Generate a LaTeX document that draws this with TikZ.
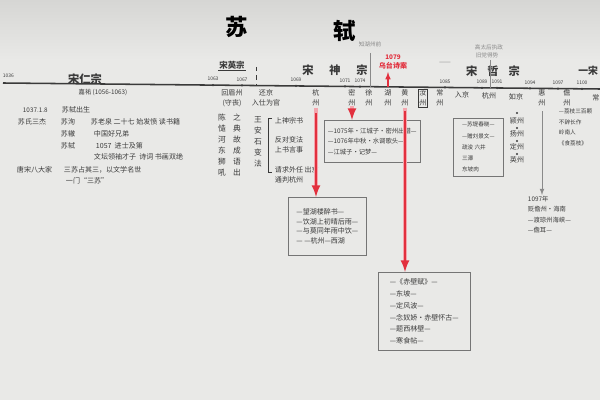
\documentclass[tikz,border=0pt]{standalone}
\usepackage{fontspec}
\setmainfont{Noto Sans CJK SC}
\definecolor{paper}{HTML}{E9E9E7}
\definecolor{paperdark}{HTML}{D6D6D4}
\definecolor{ink}{HTML}{3A3A3A}
\definecolor{faint}{HTML}{8A8A8A}
\definecolor{redink}{HTML}{E2303E}
\definecolor{pinkglow}{HTML}{F4A6AE}
\tikzset{
  hand/.style={font=\fontsize{5}{7}\selectfont, text=ink, inner sep=0.5pt},
  yr/.style={font=\fontsize{3.5}{4}\selectfont, text=ink, inner sep=0.5pt},
  era/.style={font=\fontsize{8}{9}\selectfont\bfseries, text=ink, inner sep=0.5pt},
  place/.style={hand, align=center},
  vtext/.style={font=\fontsize{5.5}{7.8}\selectfont, text=ink, align=center, inner sep=0.5pt},
  notebox/.style={draw=ink!70, line width=0.5pt, hand, align=left, anchor=north west, inner sep=2.5pt},
  redarrow/.style={draw=redink, line width=1.8pt, -latex},
  glow/.style={draw=pinkglow, line width=3.4pt},
  grayarrow/.style={draw=faint, line width=0.5pt, -latex},
}
\begin{document}
\begin{tikzpicture}[x=0.025cm, y=-0.025cm]
    \useasboundingbox (0,0) rectangle (600,400);
    \shade[top color=paperdark, bottom color=paper] (0,0) rectangle (600,60);
    \fill[paper] (0,60) rectangle (600,400);
    % title
    \node[font=\fontsize{16}{16}\selectfont\bfseries] (tsu) at (237,27) {苏};
    \node[font=\fontsize{16}{16}\selectfont\bfseries] (tshi) at (345,31) {轼};
    % time line
    \coordinate (tl0) at (3,83);
    \coordinate (tl1) at (600,89);
    \draw[ink, line width=1.1pt] (tl0) -- (tl1);
    \foreach \x/\yr in {213/1063, 242/1067, 296/1069, 345/1071, 360/1074, 445/1085, 482/1089, 497/1091, 530/1094, 558/1097, 582/1100} {
        \fill[ink] (\x,{83+0.0101*(\x-3)}) circle (0.9pt);
        \node[yr] (yr\yr) at (\x,{77+0.0101*(\x-3)}) {\yr};
    }
    \node[yr, anchor=west] (yr1036) at (2,76) {1036};
    % emperors
    \node[era] (renzong) at (85,79) {宋仁宗};
    \node[hand, font=\fontsize{4.5}{5}\selectfont] (jiayou) at (103,92) {嘉祐\ (1056-1063)};
    \node[era, font=\fontsize{6}{7}\selectfont\bfseries] (yingzong) at (232,65) {宋英宗};
    \draw[ink, line width=0.4pt] (yingzong.south west) -- (yingzong.south east);
    \draw[ink, dashed, line width=0.3pt] (256,67) -- (256,85);
    \node[era] (shenzong) at (335,70) {宋\hspace{1.4em}神\hspace{1.4em}宗};
    \node[era] (zhezong) at (493,71) {宋\hspace{0.9em}哲\hspace{0.9em}宗};
    \node[era, font=\fontsize{7}{8}\selectfont\bfseries, anchor=east] (huizong) at (599,71) {一宋};
    % notes above the line
    \node[hand, text=faint, font=\fontsize{4}{5}\selectfont] (huzhou) at (370,44) {知湖州前};
    \draw[faint, line width=0.6pt] (370,53) -- (370,87);
    \node[hand, text=redink, font=\fontsize{4.5}{5}\selectfont\bfseries] (wuyear) at (393,57) {1079};
    \node[hand, text=redink, font=\fontsize{5}{6}\selectfont\bfseries] (wutai) at (393,66) {乌台诗案};
    \draw[redink, line width=0.8pt, -latex] (388,87) -- (388,72);
    \node[hand, text=faint, font=\fontsize{4}{5}\selectfont] (gao1) at (489,47) {高太后执政};
    \node[hand, text=faint, font=\fontsize{4}{5}\selectfont] (gao2) at (487,55) {旧党得势};
    \draw[faint, line width=0.6pt] (490,60) -- (490,88);
    \node[hand, text=faint] (dash) at (445,63) {——};
    % places below the line
    \foreach \x/\a/\b/\n in {232/回眉州/(守丧)/meizhou, 266/还京/入仕为官/jing, 316/杭/州/hang, 352/密/州/mi, 369/徐/州/xu, 388/湖/州/hu, 405/黄/州/huang, 423/汝/州/ru, 440/常/州/chang, 542/惠/州/hui, 567/儋/州/dan} {
        \node[place] (p\n) at (\x,98) {\a\\\b};
    }
    \draw[ink, line width=0.4pt] (pru.north west) rectangle (pru.south east);
    \node[hand] (pdeng) at (462,95) {入京};
    \node[hand] (phang2) at (489,96) {杭州};
    \node[hand] (pjing2) at (516,97) {如京};
    \node[hand] (pchang2) at (596,98) {常};
    % second return to court
    \foreach \y/\t/\n in {121/颍州/ying, 134/扬州/yang, 147/定州/ding, 160/英州/yingz} {
        \node[hand] (c\n) at (517,\y) {\t};
    }
    \foreach \y in {113,128,141,154} {
        \fill[ink] (517,\y) circle (0.8pt);
    }
    % left column
    \node[yr, font=\fontsize{4.5}{5}\selectfont, anchor=west] (born) at (22,110) {1037.1.8};
    \node[hand, anchor=west] (bornt) at (61,110) {苏轼出生};
    \node[hand, anchor=west] (sansu) at (17,122) {苏氏三杰};
    \node[hand, anchor=west] (xun) at (60,122) {苏洵};
    \node[hand, anchor=west] (xunt) at (90,122) {苏老泉\ 二十七\ 始发愤\ 读书籍};
    \node[hand, anchor=west] (zhe) at (60,134) {苏辙};
    \node[hand, anchor=west] (zhet) at (93,134) {中国好兄弟};
    \node[hand, anchor=west] (shi) at (60,146) {苏轼};
    \node[hand, anchor=west] (shit) at (95,146) {1057\ \ 进士及第};
    \node[hand, anchor=west] (shit2) at (93,157) {文坛领袖才子\ \ 诗词\ 书画双绝};
    \node[hand, anchor=west] (bada) at (16,170) {唐宋八大家};
    \node[hand, anchor=west] (badat) at (63,170) {三苏占其三，以文学名世};
    \node[hand, anchor=west] (yimen) at (65,181) {一门“三苏”};
    % vertical notes
    \node[vtext] (col1) at (222,145) {陈\\慥\\河\\东\\狮\\吼};
    \node[vtext] (col2) at (237,145) {之\\典\\故\\成\\语\\出};
    \node[vtext] (col3) at (258,142) {王\\安\\石\\变\\法};
    \draw[ink, line width=0.4pt] (272,118) -- (268,118) -- (268,172) -- (272,172);
    \node[hand, anchor=west] (b1) at (274,121) {上神宗书};
    \node[hand, anchor=west] (b2) at (274,140) {反对变法};
    \node[hand, anchor=west] (b3) at (274,150) {上书言事};
    \node[hand, anchor=west] (b4) at (274,170) {请求外任\ 出京};
    \node[hand, anchor=west] (b5) at (274,180) {通判杭州};
    % boxes
    \node[notebox, minimum width=1.95cm, minimum height=1.45cm] (boxA) at (288,197)
        {—望湖楼醉书—\\—饮湖上初晴后雨—\\—与莫同年雨中饮—\\—\ —杭州—西湖};
    \node[notebox, minimum width=2.28cm, minimum height=1.05cm, font=\fontsize{4.5}{7.5}\selectfont] (boxB) at (324,120)
        {—1075年·江城子·密州出猎—\\—1076年中秋·水调歌头—\\—江城子·记梦—};
    \node[notebox, minimum width=2.3cm, minimum height=1.95cm, font=\fontsize{5}{8.5}\selectfont] (boxC) at (378,272)
        {—《赤壁赋》—\\—东坡—\\—定风波—\\—念奴娇·赤壁怀古—\\—题西林壁—\\—寒食帖—};
    \node[notebox, minimum width=1.25cm, minimum height=1.45cm, inner sep=2pt, font=\fontsize{4}{8}\selectfont] (boxD) at (453,118)
        {—苏堤春晓—\\—赠刘景文—\\疏浚\ 六井\\三潭\\东坡肉};
    % lists on the right
    \node[hand, align=left, anchor=north west, font=\fontsize{4}{7.5}\selectfont] (lingnan) at (558,108)
        {—荔枝三百颗\\不辞长作\\岭南人\\《食荔枝》};
    \node[hand, align=left, anchor=north west, font=\fontsize{4.5}{7.5}\selectfont] (hainan) at (527,195)
        {1097年\\贬儋州·海南\\—渡琼州海峡—\\—儋耳—};
    % red arrows
    \draw[glow] (316,108) -- (316,186);
    \draw[redarrow] (phang.south) ++(0,6) -- (phang.south |- boxA.north);
    \draw[glow] (352,106) -- (352,114);
    \draw[redarrow] (pmi.south) ++(0,2) -- (pmi.south |- boxB.north);
    \draw[glow] (405,108) -- (405,262);
    \draw[redarrow] (phuang.south) ++(0,4) -- (phuang.south |- boxC.north);
    % gray arrow
    \draw[grayarrow] (phui.south) ++(0,4) -- (phui.south |- hainan.north);
\end{tikzpicture}
\end{document}
